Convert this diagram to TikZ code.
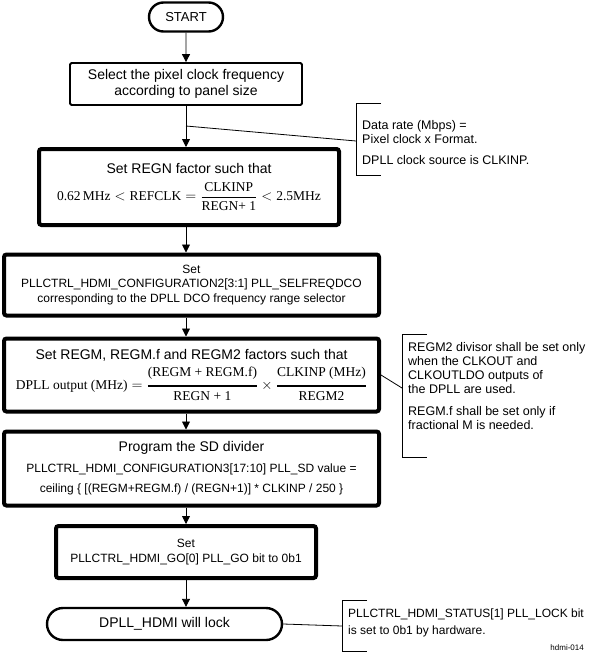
\documentclass[tikz,border=0pt]{standalone}
\usepackage{amsmath}
\usepackage{fontspec}
\setmainfont{Liberation Sans}
\newfontfamily\fserif{Liberation Serif}
\usetikzlibrary{arrows.meta,shapes.misc,calc}
\newcommand\fr[1]{\text{\fserif #1}}
\newcommand\ttl{\fontsize{14}{16}\selectfont}
\newcommand\reg{\fontsize{12}{14.5}\selectfont}
\newcommand\fml{\fontsize{13.5}{16}\selectfont}
\begin{document}
\begin{tikzpicture}[x=1pt,y=-1pt,
  every node/.style={font=\reg, inner sep=0pt},
  term/.style={draw, rounded rectangle, line width=2.4pt, align=center},
  thinbox/.style={draw, line width=1.8pt, rounded corners=1.5pt, align=center},
  thickbox/.style={draw, line width=4pt, rounded corners=2.5pt, align=center},
  note/.style={anchor=north west, align=left, font=\fontsize{12.5}{14}\selectfont},
  arr/.style={line width=0.9pt, -{Triangle[length=8pt,width=8pt]}},
  lnk/.style={line width=0.8pt}]
\useasboundingbox (0,0) rectangle (589,658);

\node[term, minimum width=74pt, minimum height=29pt, font=\fontsize{13}{15}\selectfont] (start) at (186,17) {START};

\node[thinbox, minimum width=232pt, minimum height=42pt, font=\ttl] (b1) at (186,84)
  {Select the pixel clock frequency\\according to panel size};

\node[thickbox, minimum width=300pt, minimum height=76pt] (b2) at (189,187)
  {{\ttl Set REGN factor such that}\\[8pt]
   {\fml$\fr{0.62\,MHz} < \fr{REFCLK} = \genfrac{}{}{0.8pt}{0}{\fr{CLKINP}}{\fr{REGN+ 1}} < \fr{2.5MHz}$}};

\node[thickbox, minimum width=375pt, minimum height=61pt] (b3) at (191.5,285)
  {Set\\PLLCTRL\_HDMI\_CONFIGURATION2[3:1] PLL\_SELFREQDCO\\corresponding to the DPLL DCO frequency range selector};

\node[thickbox, minimum width=375pt, minimum height=73pt] (b4) at (191.5,375)
  {{\ttl Set REGM, REGM.f and REGM2 factors such that}\\[5pt]
   {\fml$\fr{DPLL output (MHz)} = \genfrac{}{}{1.8pt}{0}{\fr{(REGM + REGM.f)}}{\fr{REGN + 1}} \times \genfrac{}{}{1.8pt}{0}{\fr{CLKINP (MHz)}}{\fr{REGM2}}$}};

\node[thickbox, minimum width=375pt, minimum height=74pt] (b5) at (191.5,468.5)
  {{\ttl Program the SD divider}\\[6pt]
   PLLCTRL\_HDMI\_CONFIGURATION3[17:10] PLL\_SD value =\\[6pt]
   ceiling \{ [(REGM+REGM.f) / (REGN+1)] * CLKINP / 250 \}};

\node[thickbox, minimum width=260pt, minimum height=52pt] (b6) at (186,552)
  {Set\\PLLCTRL\_HDMI\_GO[0] PLL\_GO bit to 0b1};

\node[term, minimum width=235pt, minimum height=32pt, font=\ttl] (end) at (164.5,624) {DPLL\_HDMI will lock};

% arrows
\draw[arr] (start) -- (start |- b1.north);
\draw[arr] (b1.south -| start) -- (start |- b2.north);
\draw[arr] (b2.south -| start) -- (start |- b3.north);
\draw[arr] (b3.south -| start) -- (start |- b4.north);
\draw[arr] (b4.south -| start) -- (start |- b5.north);
\draw[arr] (b5.south -| start) -- (start |- b6.north);
\draw[arr] (b6.south -| start) -- (start |- end.north);

% note 1
\coordinate (k1) at (356,103);
\node[note] (n1) at (362,120)
  {Data rate (Mbps) =\\Pixel clock x Format.\\[7pt]DPLL clock source is CLKINP.};
\draw[lnk] ([xshift=25pt]k1) -- (k1) -- ++(0,72) -- ++(25,0);
\coordinate (c1) at (186,126);
\draw[lnk] (c1) -- ($(k1)+(0,38)$);

% note 2
\coordinate (k2) at (402,334);
\node[note] (n2) at (408,342)
  {REGM2 divisor shall be set only\\when the CLKOUT and\\CLKOUTLDO outputs of\\the DPLL are used.\\[8pt]REGM.f shall be set only if\\fractional M is needed.};
\draw[lnk] ([xshift=25pt]k2) -- (k2) -- ++(0,123) -- ++(25,0);
\draw[lnk] (b4.east) -- ($(k2)+(0,54)$);

% note 3
\coordinate (k3) at (342,600);
\node[note, font=\fontsize{12}{16.5}\selectfont] (n3) at (348,609)
  {PLLCTRL\_HDMI\_STATUS[1] PLL\_LOCK bit\\is set to 0b1 by hardware.};
\draw[lnk] ([xshift=25pt]k3) -- (k3) -- ++(0,51) -- ++(25,0);
\draw[lnk] (end.east) -- ($(k3)+(0,26)$);

\node[anchor=east, font=\fontsize{8}{10}\selectfont] (tag) at (584,648) {hdmi-014};
\end{tikzpicture}
\end{document}
